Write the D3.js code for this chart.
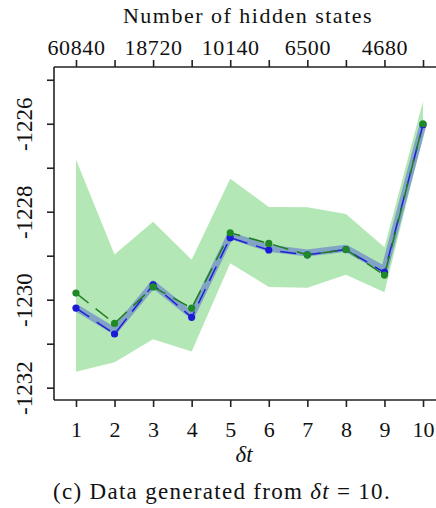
<!DOCTYPE html>
<html><head><meta charset="utf-8">
<script src="https://cdn.jsdelivr.net/npm/d3@7/dist/d3.min.js"></script>
<style>
body{margin:0;background:#fff;}
svg text{font-family:"Liberation Serif","DejaVu Serif","Noto Serif","Tinos","FreeSerif","Nimbus Roman","Times",Georgia,serif !important;fill:#111;}
</style></head>
<body><svg id="c" width="436" height="508"></svg>
<script>
const deltaT = [1,2,3,4,5,6,7,8,9,10];
const hiddenLabels = ["60840","18720","10140","6500","4680"];
const hiddenTickAt = [1,3,5,7,9];
const bandUpper = [-1226.81,-1228.97,-1228.23,-1229.09,-1227.25,-1227.89,-1227.90,-1228.05,-1228.81,-1225.49];
const bandLower = [-1231.64,-1231.42,-1230.90,-1231.18,-1229.17,-1229.71,-1229.73,-1229.43,-1229.83,-1226.28];
const meanLine  = [-1230.18,-1230.71,-1229.65,-1230.35,-1228.54,-1228.83,-1228.94,-1228.83,-1229.32,-1226.02];
const blueVals  = [-1230.19,-1230.78,-1229.66,-1230.40,-1228.59,-1228.87,-1228.98,-1228.86,-1229.38,-1226.02];
const greenVals = [-1229.85,-1230.54,-1229.71,-1230.19,-1228.48,-1228.72,-1228.98,-1228.86,-1229.44,-1226.00];
const yTicks = [-1225,-1226,-1227,-1228,-1229,-1230,-1231,-1232];
const yLabelTicks = [-1226,-1228,-1230,-1232];

const svg = d3.select("#c");
const L=54, T=67, B=400, R=445;
const x = d3.scaleLinear().domain([0.43,10.57]).range([L,R]);
const y = d3.scaleLinear().domain([-1232.28,-1224.71]).range([B,T]);
const fs = 22;

svg.append("path").datum(deltaT.map((d,i)=>({x:d,u:bandUpper[i],l:bandLower[i]})))
  .attr("d", d3.area().x(d=>x(d.x)).y0(d=>y(d.l)).y1(d=>y(d.u)))
  .attr("fill","#b3e7b5");

const line = vals => d3.line().x((d,i)=>x(deltaT[i])).y(d=>y(d))(vals);
svg.append("path").attr("d",line(meanLine)).attr("fill","none")
  .attr("stroke","#7897c8").attr("stroke-opacity",0.85).attr("stroke-width",7).attr("stroke-linejoin","round");
svg.append("path").attr("d",line(blueVals)).attr("fill","none")
  .attr("stroke","#1f1fd6").attr("stroke-width",1.5).attr("stroke-dasharray","16,9");
svg.append("path").attr("d",line(greenVals)).attr("fill","none")
  .attr("stroke","#1e7d1e").attr("stroke-width",1.5).attr("stroke-dasharray","16,9");
svg.append("g").selectAll("circle").data(blueVals).join("circle")
  .attr("cx",(d,i)=>x(deltaT[i])).attr("cy",d=>y(d)).attr("r",3.6).attr("fill","#1a1ad8");
svg.append("g").selectAll("circle").data(greenVals).join("circle")
  .attr("cx",(d,i)=>x(deltaT[i])).attr("cy",d=>y(d)).attr("r",3.6).attr("fill","#1f8a25");

const ax = svg.append("g").attr("stroke","#222").attr("stroke-width",1.6);
ax.append("line").attr("x1",L).attr("x2",R+10).attr("y1",T).attr("y2",T);
ax.append("line").attr("x1",L).attr("x2",R+10).attr("y1",B).attr("y2",B);
ax.append("line").attr("x1",L).attr("x2",L).attr("y1",T).attr("y2",B);
const gBottom = svg.append("g").attr("transform",`translate(0,${B})`)
  .call(d3.axisBottom(x).tickValues(deltaT).tickSize(7).tickFormat(d3.format("d")));
const gTop = svg.append("g").attr("transform",`translate(0,${T})`)
  .call(d3.axisTop(x).tickValues(deltaT).tickSize(7)
    .tickFormat(d=>{const k=hiddenTickAt.indexOf(d);return k>=0?hiddenLabels[k]:"";}));
const gLeft = svg.append("g").attr("transform",`translate(${L},0)`)
  .call(d3.axisLeft(y).tickValues(yTicks).tickSize(7)
    .tickFormat(d=>yLabelTicks.includes(d)?String(d):""));
[gBottom,gTop,gLeft].forEach(g=>{
  g.attr("font-family",null);
  g.select(".domain").remove();
  g.selectAll(".tick line").attr("stroke","#222").attr("stroke-width",1.6);
  g.selectAll(".tick text").attr("font-size",fs).attr("fill","#111");
});
gBottom.selectAll(".tick text").attr("dy",null).attr("y",37);
gTop.selectAll(".tick text").attr("y",-12).attr("letter-spacing",0.6);
gLeft.selectAll(".tick text").attr("x",null).attr("dy",null).attr("font-size",23)
  .attr("transform","translate(-22,0) rotate(-90)").attr("text-anchor","middle").attr("y",0);

svg.append("text").attr("x",248).attr("y",23).attr("text-anchor","middle")
  .attr("font-size",fs).attr("letter-spacing",1.5).text("Number of hidden states");
const xl = svg.append("text").attr("x",244).attr("y",462).attr("text-anchor","middle").attr("font-size",23);
xl.append("tspan").attr("font-style","italic").text("δt");
const cap = svg.append("text").attr("x",222).attr("y",499).attr("text-anchor","middle")
  .attr("font-size",23).attr("letter-spacing",1.3);
cap.append("tspan").text("(c) Data generated from ");
cap.append("tspan").attr("font-style","italic").text("δt");
cap.append("tspan").text(" = 10.");
</script></body></html>
